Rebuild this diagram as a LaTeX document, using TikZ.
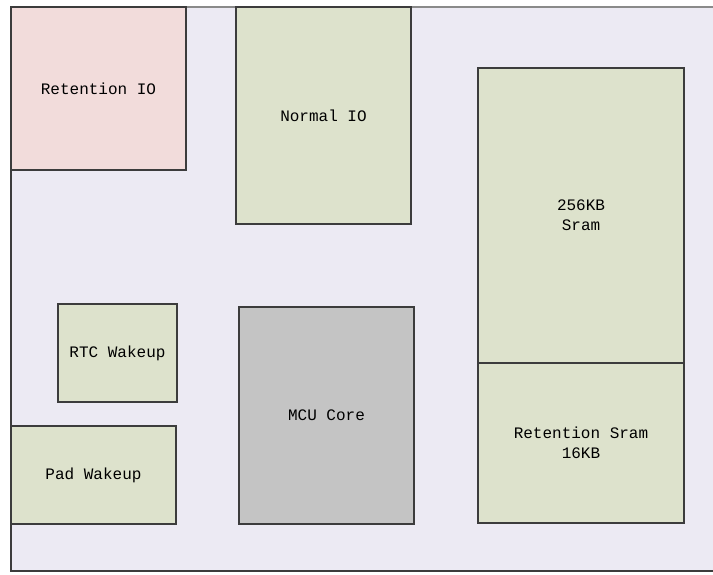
\documentclass[tikz,border=0pt]{standalone}
\usepackage{fontspec}
\setmonofont{Liberation Mono}
\usepackage{tikz}
\usetikzlibrary{positioning}
\definecolor{chipbg}{RGB}{236,234,243}
\definecolor{blkgreen}{RGB}{221,226,204}
\definecolor{blkpink}{RGB}{242,220,219}
\definecolor{blkgray}{RGB}{196,196,196}
\definecolor{blkline}{RGB}{60,60,60}

\begin{document}
\begin{tikzpicture}[x=1pt,y=-1pt,
    blk/.style={draw=blkline, line width=1.3pt, fill=blkgreen, inner sep=0pt, outer sep=0pt,
        align=center, font=\ttfamily\fontsize{16}{20}\selectfont, text=black}]
    \useasboundingbox (0,0) rectangle (713,574);
    % Chip background and frame
    \fill[chipbg] (11,7) rectangle (713,571);
    \draw[blkline!60, line width=1.3pt] (11,7) -- (713,7);
    \draw[blkline, line width=1.3pt] (11,7) -- (11,571) -- (713,571);
    % Blocks
    \node[blk, fill=blkpink, minimum width=175, minimum height=163] (retio) at (98.5,88.5) {Retention IO};
    \node[blk, minimum width=175, minimum height=217] (normio) at (323.5,115.5) {Normal IO};
    \node[blk, minimum width=206, minimum height=295] (sram) at (581,215.5) {256KB\\Sram};
    \node[blk, minimum width=206, minimum height=160] (retsram) at (581,443) {Retention Sram\\16KB};
    \node[blk, minimum width=119, minimum height=98] (rtc) at (117.5,353) {RTC Wakeup};
    \node[blk, minimum width=165, minimum height=98] (pad) at (93.5,475) {Pad Wakeup};
    \node[blk, fill=blkgray, minimum width=175, minimum height=217] (mcu) at (326.5,415.5) {MCU Core};
\end{tikzpicture}
\end{document}
